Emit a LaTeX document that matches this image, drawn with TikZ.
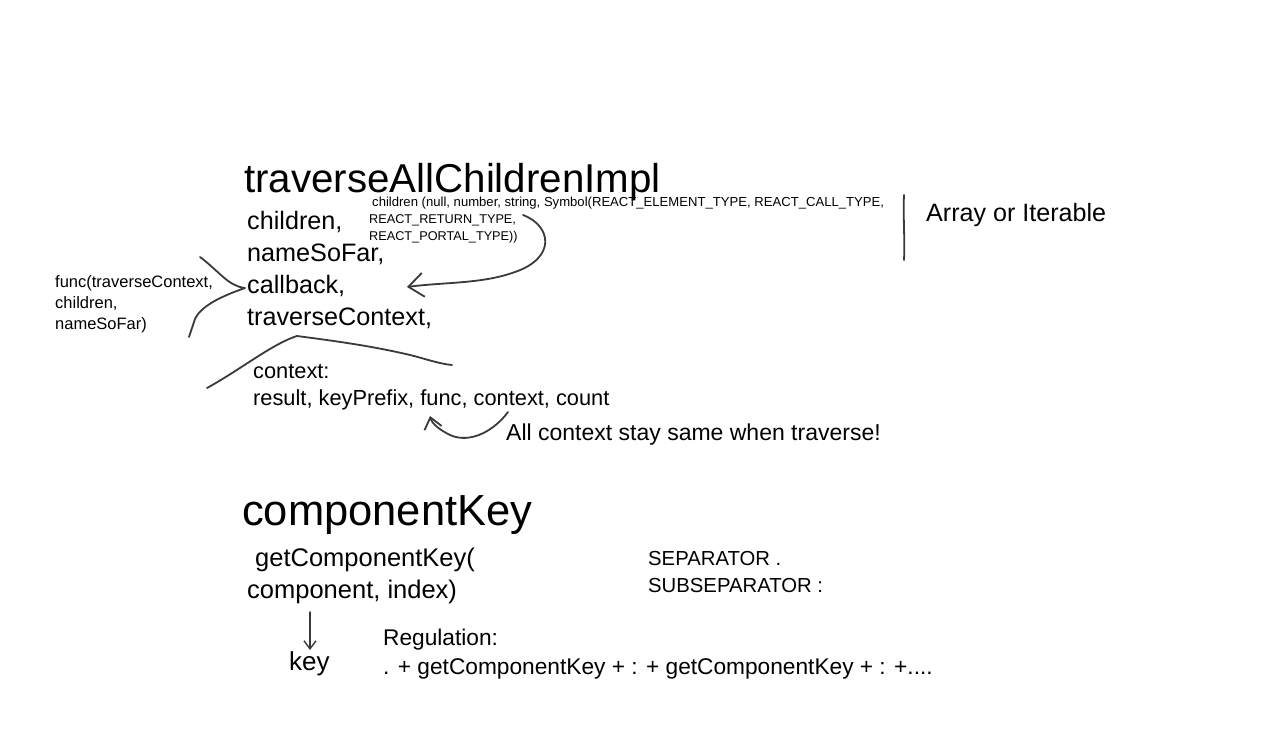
\documentclass[tikz,border=0pt]{standalone}
\usepackage{fontspec}
\setmainfont{Liberation Sans}
\usetikzlibrary{arrows.meta}
\definecolor{ink}{HTML}{3A3A3A}
\tikzset{
  txt/.style={anchor=base west,inner sep=0pt,text=black},
  fs/.style={font=\fontsize{#1}{#1}\selectfont},
  pen/.style={draw=ink,line width=1.8pt,line cap=round,line join=round},
  barb/.style={-{Straight Barb[length=#1,width=1.6*#1,line width=1.8pt]}},
}
\begin{document}
\begin{tikzpicture}[x=1pt,y=-1pt]
\useasboundingbox[fill=white] (0,0) rectangle (1280,751);
% title 1
\node[txt,fs=40.3] (title1) at (244,193) {traverseAllChildrenImpl};
% parameters
\node[txt,fs=25.2] (pchildren) at (247,230) {children,};
\node[txt,fs=25.2] (pname) at (247,262) {nameSoFar,};
\node[txt,fs=25.2] (pcallback) at (247,294) {callback,};
\node[txt,fs=25.2] (pctx) at (247,326) {traverseContext,};
% children note
\node[txt,fs=13.1] (cn1) at (372,207) {children (null, number, string, Symbol(REACT\_ELEMENT\_TYPE, REACT\_CALL\_TYPE,};
\node[txt,fs=12.7] (cn2) at (369,224) {REACT\_RETURN\_TYPE,};
\node[txt,fs=12.7] (cn3) at (369,241) {REACT\_PORTAL\_TYPE))};
% func note
\node[txt,fs=16.5] (fn1) at (55,288) {func(traverseContext,};
\node[txt,fs=16.5] (fn2) at (55,309) {children,};
\node[txt,fs=16.5] (fn3) at (55,330) {nameSoFar)};
% array
\node[txt,fs=25.1] (arr) at (926,222) {Array or Iterable};
% context
\node[txt,fs=21.8] (ctx1) at (253,378) {context:};
\node[txt,fs=21.8] (ctx2) at (253,405) {result, keyPrefix, func, context, count};
\node[txt,fs=23] (same) at (506,440) {All context stay same when traverse!};
% componentKey
\node[txt,fs=43.5] (title2) at (242,525) {componentKey};
\node[txt,fs=25.5] (gck1) at (255,566) {getComponentKey(};
\node[txt,fs=25.5] (gck2) at (247,598) {component, index)};
\node[txt,fs=20.3] (sep1) at (648,565) {SEPARATOR .};
\node[txt,fs=20.3] (sep2) at (648,592) {SUBSEPARATOR :};
\node[txt,fs=22.7] (reg1) at (383,645) {Regulation:};
\node[txt,fs=22.7] (reg2) at (383,674) {. + getComponentKey + : + getComponentKey + : +....};
\node[txt,fs=26] (key) at (289,670) {key};
% coordinates for hand-drawn strokes
\coordinate (a0) at (523,215);
\coordinate (a1) at (407,287);
\coordinate (b0) at (200,257);
\coordinate (b1) at (245,288);
\coordinate (b2) at (189,337);
\coordinate (c0) at (207,388);
\coordinate (c1) at (297,336);
\coordinate (c2) at (452,365);
\coordinate (d0) at (508,412);
\coordinate (d1) at (430,416);
\coordinate (v0) at (904,195);
\coordinate (v1) at (904,260);
\coordinate (k0) at (310,612);
\coordinate (k1) at (310,650);
% strokes
\draw[pen,barb=15pt] (a0) .. controls (552,226) and (556,258) .. (515,272)
   .. controls (482,284) and (445,282) .. (a1);
\draw[pen] (b0) .. controls (220,272) and (228,286) .. (b1)
   .. controls (225,295) and (198,306) .. (194,322) -- (b2);
\draw[pen] (c0) .. controls (240,370) and (272,344) .. (c1)
   .. controls (335,341) and (372,346) .. (410,355)
   .. controls (426,359) and (440,364) .. (c2);
\draw[pen,barb=11pt] (d0) .. controls (494,431) and (470,444) .. (450,435)
   .. controls (440,430) and (432,424) .. (d1);
\draw[pen] (v0) .. controls (903,215) and (905,240) .. (v1);
\draw[pen,line width=1.4pt,-{Straight Barb[length=8pt,width=12pt,line width=1.4pt]}] (k0) -- (k1);
\end{tikzpicture}
\end{document}
